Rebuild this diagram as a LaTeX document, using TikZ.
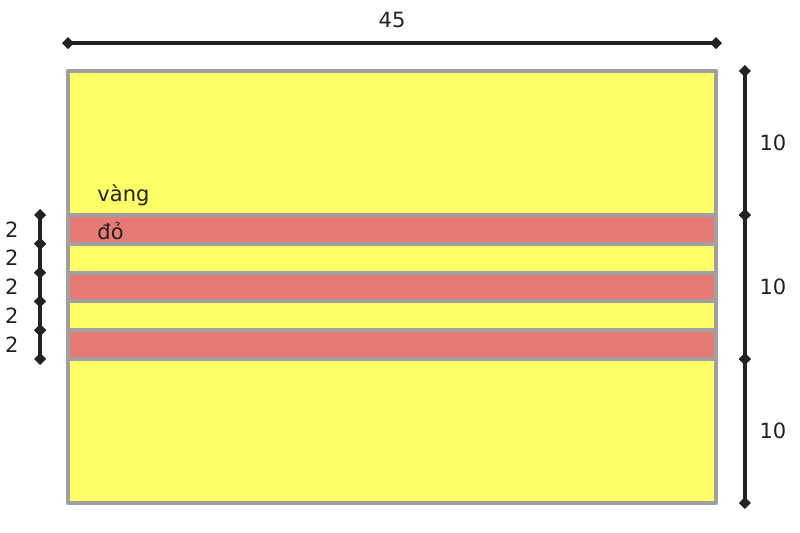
\documentclass[tikz,border=0pt]{standalone}
\usepackage{fontspec}
\setmainfont{DejaVu Sans}
\usetikzlibrary{arrows.meta}
\definecolor{vang}{HTML}{FFFF66}
\definecolor{do}{HTML}{E87A75}
\definecolor{vien}{HTML}{A0A0A0}
\definecolor{muc}{HTML}{222222}
\begin{document}
\begin{tikzpicture}[x=14.4pt,y=14.4pt,line join=round,font=\fontsize{21}{24}\selectfont,
    every node/.style={text=muc},
    soc/.style={draw=vien,line width=4pt},
    kichthuoc/.style={draw=muc,line width=4pt,shorten <=-6pt,shorten >=-6pt,
        {Diamond[length=12pt,width=12pt]}-{Diamond[length=12pt,width=12pt]}}]
    \useasboundingbox (-4.722,-2.083) rectangle (50.833,34.93);
    \draw[soc,fill=vang] (0,0) rectangle (45,30);
    \foreach \y in {10,14,18}
        \draw[soc,fill=do] (0,\y) rectangle (45,\y+2);
    \node[anchor=west] (vang) at (1.8,21.4) {vàng};
    \node[anchor=west] (do) at (1.8,18.9) {đỏ};
    % kich thuoc
    \coordinate (t1) at (0,31.94);
    \coordinate (t2) at (45,31.94);
    \draw[kichthuoc] (t1) -- (t2);
    \node (n45) at (22.5,33.55) {45};
    \foreach \a/\b in {0/10,10/20,20/30}{
        \draw[kichthuoc] (47.01,\a) -- (47.01,\b);
        \node at (48.95,\a+5) {10};}
    \foreach \a in {10,12,...,18}{
        \draw[kichthuoc] (-1.94,\a) -- (-1.94,\a+2);
        \node at (-3.9,\a+1) {2};}
\end{tikzpicture}
\end{document}
